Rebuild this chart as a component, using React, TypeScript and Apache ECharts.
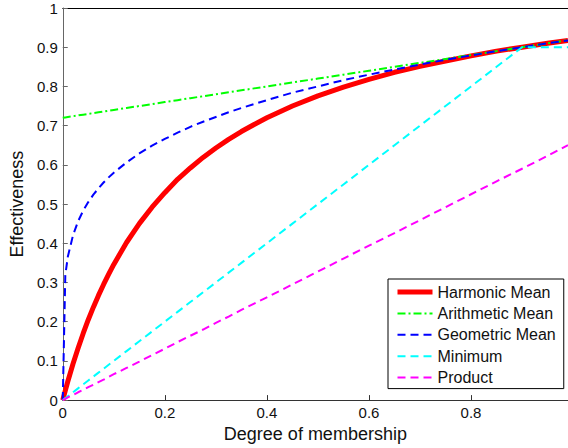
import React, { useEffect, useRef } from "react";
import * as echarts from "echarts";

const membership = [0, 0.005, 0.01, 0.02, 0.03, 0.04, 0.05, 0.06, 0.07, 0.08, 0.09, 0.1, 0.125, 0.15, 0.175, 0.2, 0.225, 0.25, 0.275, 0.3, 0.325, 0.35, 0.375, 0.4, 0.45, 0.5, 0.55, 0.6, 0.65, 0.7, 0.75, 0.8, 0.85, 0.9, 0.95, 0.99];
const harmonicMean = [0, 0.024, 0.048, 0.092, 0.132, 0.17, 0.205, 0.237, 0.267, 0.295, 0.321, 0.346, 0.402, 0.45, 0.492, 0.529, 0.563, 0.592, 0.619, 0.643, 0.665, 0.685, 0.703, 0.72, 0.75, 0.776, 0.798, 0.818, 0.836, 0.851, 0.865, 0.878, 0.89, 0.9, 0.91, 0.917];
const arithmeticMean = [0.72, 0.721, 0.722, 0.724, 0.726, 0.728, 0.73, 0.732, 0.734, 0.736, 0.738, 0.74, 0.745, 0.75, 0.755, 0.76, 0.765, 0.77, 0.775, 0.78, 0.785, 0.79, 0.795, 0.8, 0.81, 0.82, 0.83, 0.84, 0.85, 0.86, 0.87, 0.88, 0.89, 0.9, 0.91, 0.918];
const geometricMean = [0, 0.319, 0.366, 0.42, 0.456, 0.483, 0.505, 0.524, 0.54, 0.555, 0.568, 0.58, 0.606, 0.629, 0.649, 0.666, 0.682, 0.697, 0.71, 0.722, 0.734, 0.745, 0.755, 0.765, 0.784, 0.8, 0.816, 0.83, 0.843, 0.856, 0.868, 0.879, 0.89, 0.9, 0.91, 0.917];
const minimum = [0, 0.005, 0.01, 0.02, 0.03, 0.04, 0.05, 0.06, 0.07, 0.08, 0.09, 0.1, 0.125, 0.15, 0.175, 0.2, 0.225, 0.25, 0.275, 0.3, 0.325, 0.35, 0.375, 0.4, 0.45, 0.5, 0.55, 0.6, 0.65, 0.7, 0.75, 0.8, 0.85, 0.9, 0.9, 0.9];
const product = [0, 0.003, 0.007, 0.013, 0.02, 0.026, 0.033, 0.039, 0.046, 0.052, 0.059, 0.066, 0.082, 0.098, 0.115, 0.131, 0.148, 0.164, 0.18, 0.197, 0.213, 0.23, 0.246, 0.262, 0.295, 0.328, 0.361, 0.394, 0.426, 0.459, 0.492, 0.525, 0.558, 0.59, 0.623, 0.65];

const seriesNames = ["Harmonic Mean", "Arithmetic Mean", "Geometric Mean", "Minimum", "Product"];
const xAxisTitle = "Degree of membership";
const yAxisTitle = "Effectiveness";

const FONT = "Liberation Sans, Arial, Helvetica, sans-serif";

function pairs(ys: number[]) {
  return membership.map((x, i) => [x, ys[i]]);
}

export default function App() {
  const ref = useRef<HTMLDivElement>(null);
  useEffect(() => {
    if (!ref.current) return;
    const chart = echarts.init(ref.current, undefined, { renderer: "svg" });
    const styles = [
      { color: "#ff0000", width: 5, type: "solid" as any },
      { color: "#00ff00", width: 2, type: [8, 3, 2, 3] },
      { color: "#0000ff", width: 2, type: [8, 5] },
      { color: "#00ffff", width: 2, type: [8, 5] },
      { color: "#ff00ff", width: 2, type: [8, 5] },
    ];
    const datasets = [harmonicMean, arithmeticMean, geometricMean, minimum, product];
    chart.setOption({
      animation: false,
      backgroundColor: "#ffffff",
      textStyle: { fontFamily: FONT },
      grid: { left: 62, right: 0, top: 8, bottom: 45, containLabel: false },
      legend: {
        orient: "vertical",
        left: 388,
        top: 279,
        data: seriesNames,
        backgroundColor: "#ffffff",
        borderColor: "#000000",
        borderWidth: 1,
        borderRadius: 0,
        padding: [5, 8, 3, 7],
        itemWidth: 35,
        itemHeight: 14,
        itemGap: 5.4,
        selectedMode: false,
        itemStyle: { opacity: 0, borderWidth: 0 },
        lineStyle: { width: "inherit" as any },
        textStyle: { fontFamily: FONT, fontSize: 16, color: "#111", lineHeight: 16 },
      },
      xAxis: [
        {
          type: "value",
          min: 0,
          max: 0.99,
          interval: 0.2,
          name: xAxisTitle,
          nameLocation: "middle",
          nameGap: 24,
          nameTextStyle: { fontFamily: FONT, fontSize: 18, color: "#111" },
          axisLine: { show: true, lineStyle: { color: "#333", width: 1 } },
          axisTick: { show: true, inside: true, length: 5, lineStyle: { color: "#333" } },
          axisLabel: { showMaxLabel: false, fontFamily: FONT, fontSize: 15, color: "#111", margin: 5 },
          splitLine: { show: false },
        },
        {
          type: "value",
          position: "top",
          min: 0,
          max: 0.99,
          axisLine: { show: true, onZero: false, lineStyle: { color: "#000", width: 1 } },
          axisTick: { show: false },
          axisLabel: { show: false },
          splitLine: { show: false },
        },
      ],
      yAxis: {
        type: "value",
        min: 0,
        max: 1,
        interval: 0.1,
        name: yAxisTitle,
        nameLocation: "middle",
        nameGap: 34,
        nameTextStyle: { fontFamily: FONT, fontSize: 18, color: "#111" },
        axisLine: { show: true, lineStyle: { color: "#666", width: 1 } },
        axisTick: { show: true, inside: true, length: 5, lineStyle: { color: "#666" } },
        axisLabel: { fontFamily: FONT, fontSize: 15, color: "#111", margin: 5 },
        splitLine: { show: false },
      },
      series: seriesNames.map((name, i) => ({
        name,
        type: "line",
        xAxisIndex: 0,
        data: pairs(datasets[i]),
        showSymbol: false,
        symbol: "none",
        smooth: false,
        lineStyle: { color: styles[i].color, width: styles[i].width, type: styles[i].type, join: "round" },
        itemStyle: { color: styles[i].color },
        emphasis: { disabled: true },
        z: 2 + i,
      })),
    });
    return () => chart.dispose();
  }, []);
  return (
    <div
      ref={ref}
      style={{ position: "fixed", left: 0, top: 0, width: 568, height: 448, background: "#fff" }}
    />
  );
}
